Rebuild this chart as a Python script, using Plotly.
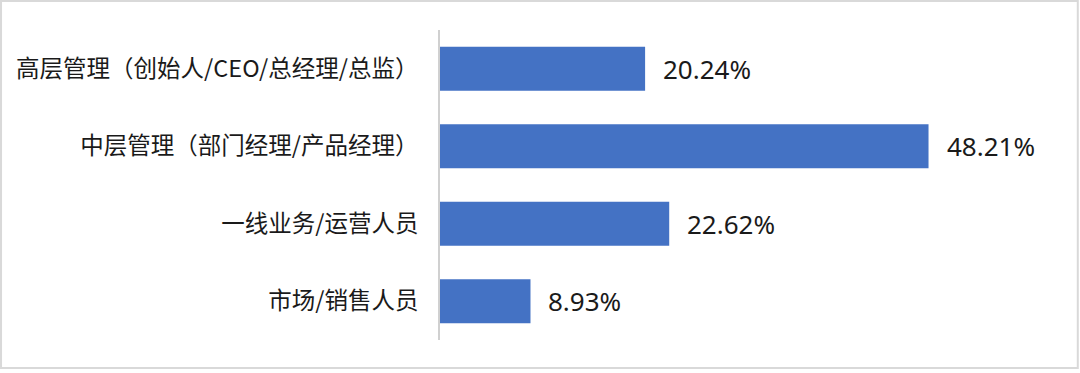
import plotly.graph_objects as go

categories = [
    "高层管理（创始人/CEO/总经理/总监）",
    "中层管理（部门经理/产品经理）",
    "一线业务/运营人员",
    "市场/销售人员",
]
values = [20.24, 48.21, 22.62, 8.93]
value_labels = ["20.24%", "48.21%", "22.62%", "8.93%"]

BAR_COLOR = "#4472C4"
TEXT_COLOR = "#1a1a1a"

fig = go.Figure()
fig.add_trace(go.Bar(
    x=values,
    y=categories,
    orientation="h",
    marker=dict(color=BAR_COLOR, line=dict(width=0)),
    hoverinfo="skip",
))

for v, lab, cat in zip(values, value_labels, categories):
    fig.add_annotation(
        x=v, y=cat, text=lab, showarrow=False,
        xanchor="left", yanchor="middle", xshift=16,
        font=dict(family="Noto Sans, Noto Sans CJK SC", size=26, color=TEXT_COLOR),
    )

# outer light border
fig.add_shape(
    type="rect", xref="paper", yref="paper",
    x0=-0.722, x1=1.049, y0=-0.090, y1=1.0935,
    line=dict(color="#d9d9d9", width=2), fillcolor="rgba(0,0,0,0)", layer="below",
)

fig.update_layout(
    width=1080, height=373,
    margin=dict(l=440, r=32, t=30, b=33),
    paper_bgcolor="white",
    plot_bgcolor="white",
    bargap=0.43,
    showlegend=False,
    xaxis=dict(
        range=[0, 60], visible=False, showgrid=False, zeroline=False,
    ),
    yaxis=dict(
        autorange="reversed",
        showline=True, linecolor="#d0d0d0", linewidth=1.5,
        ticks="", showgrid=False, zeroline=False,
        ticklabelstandoff=15,
        tickfont=dict(family="Noto Sans CJK SC", size=23.5, color=TEXT_COLOR),
    ),
)

fig.write_html("out.html")
